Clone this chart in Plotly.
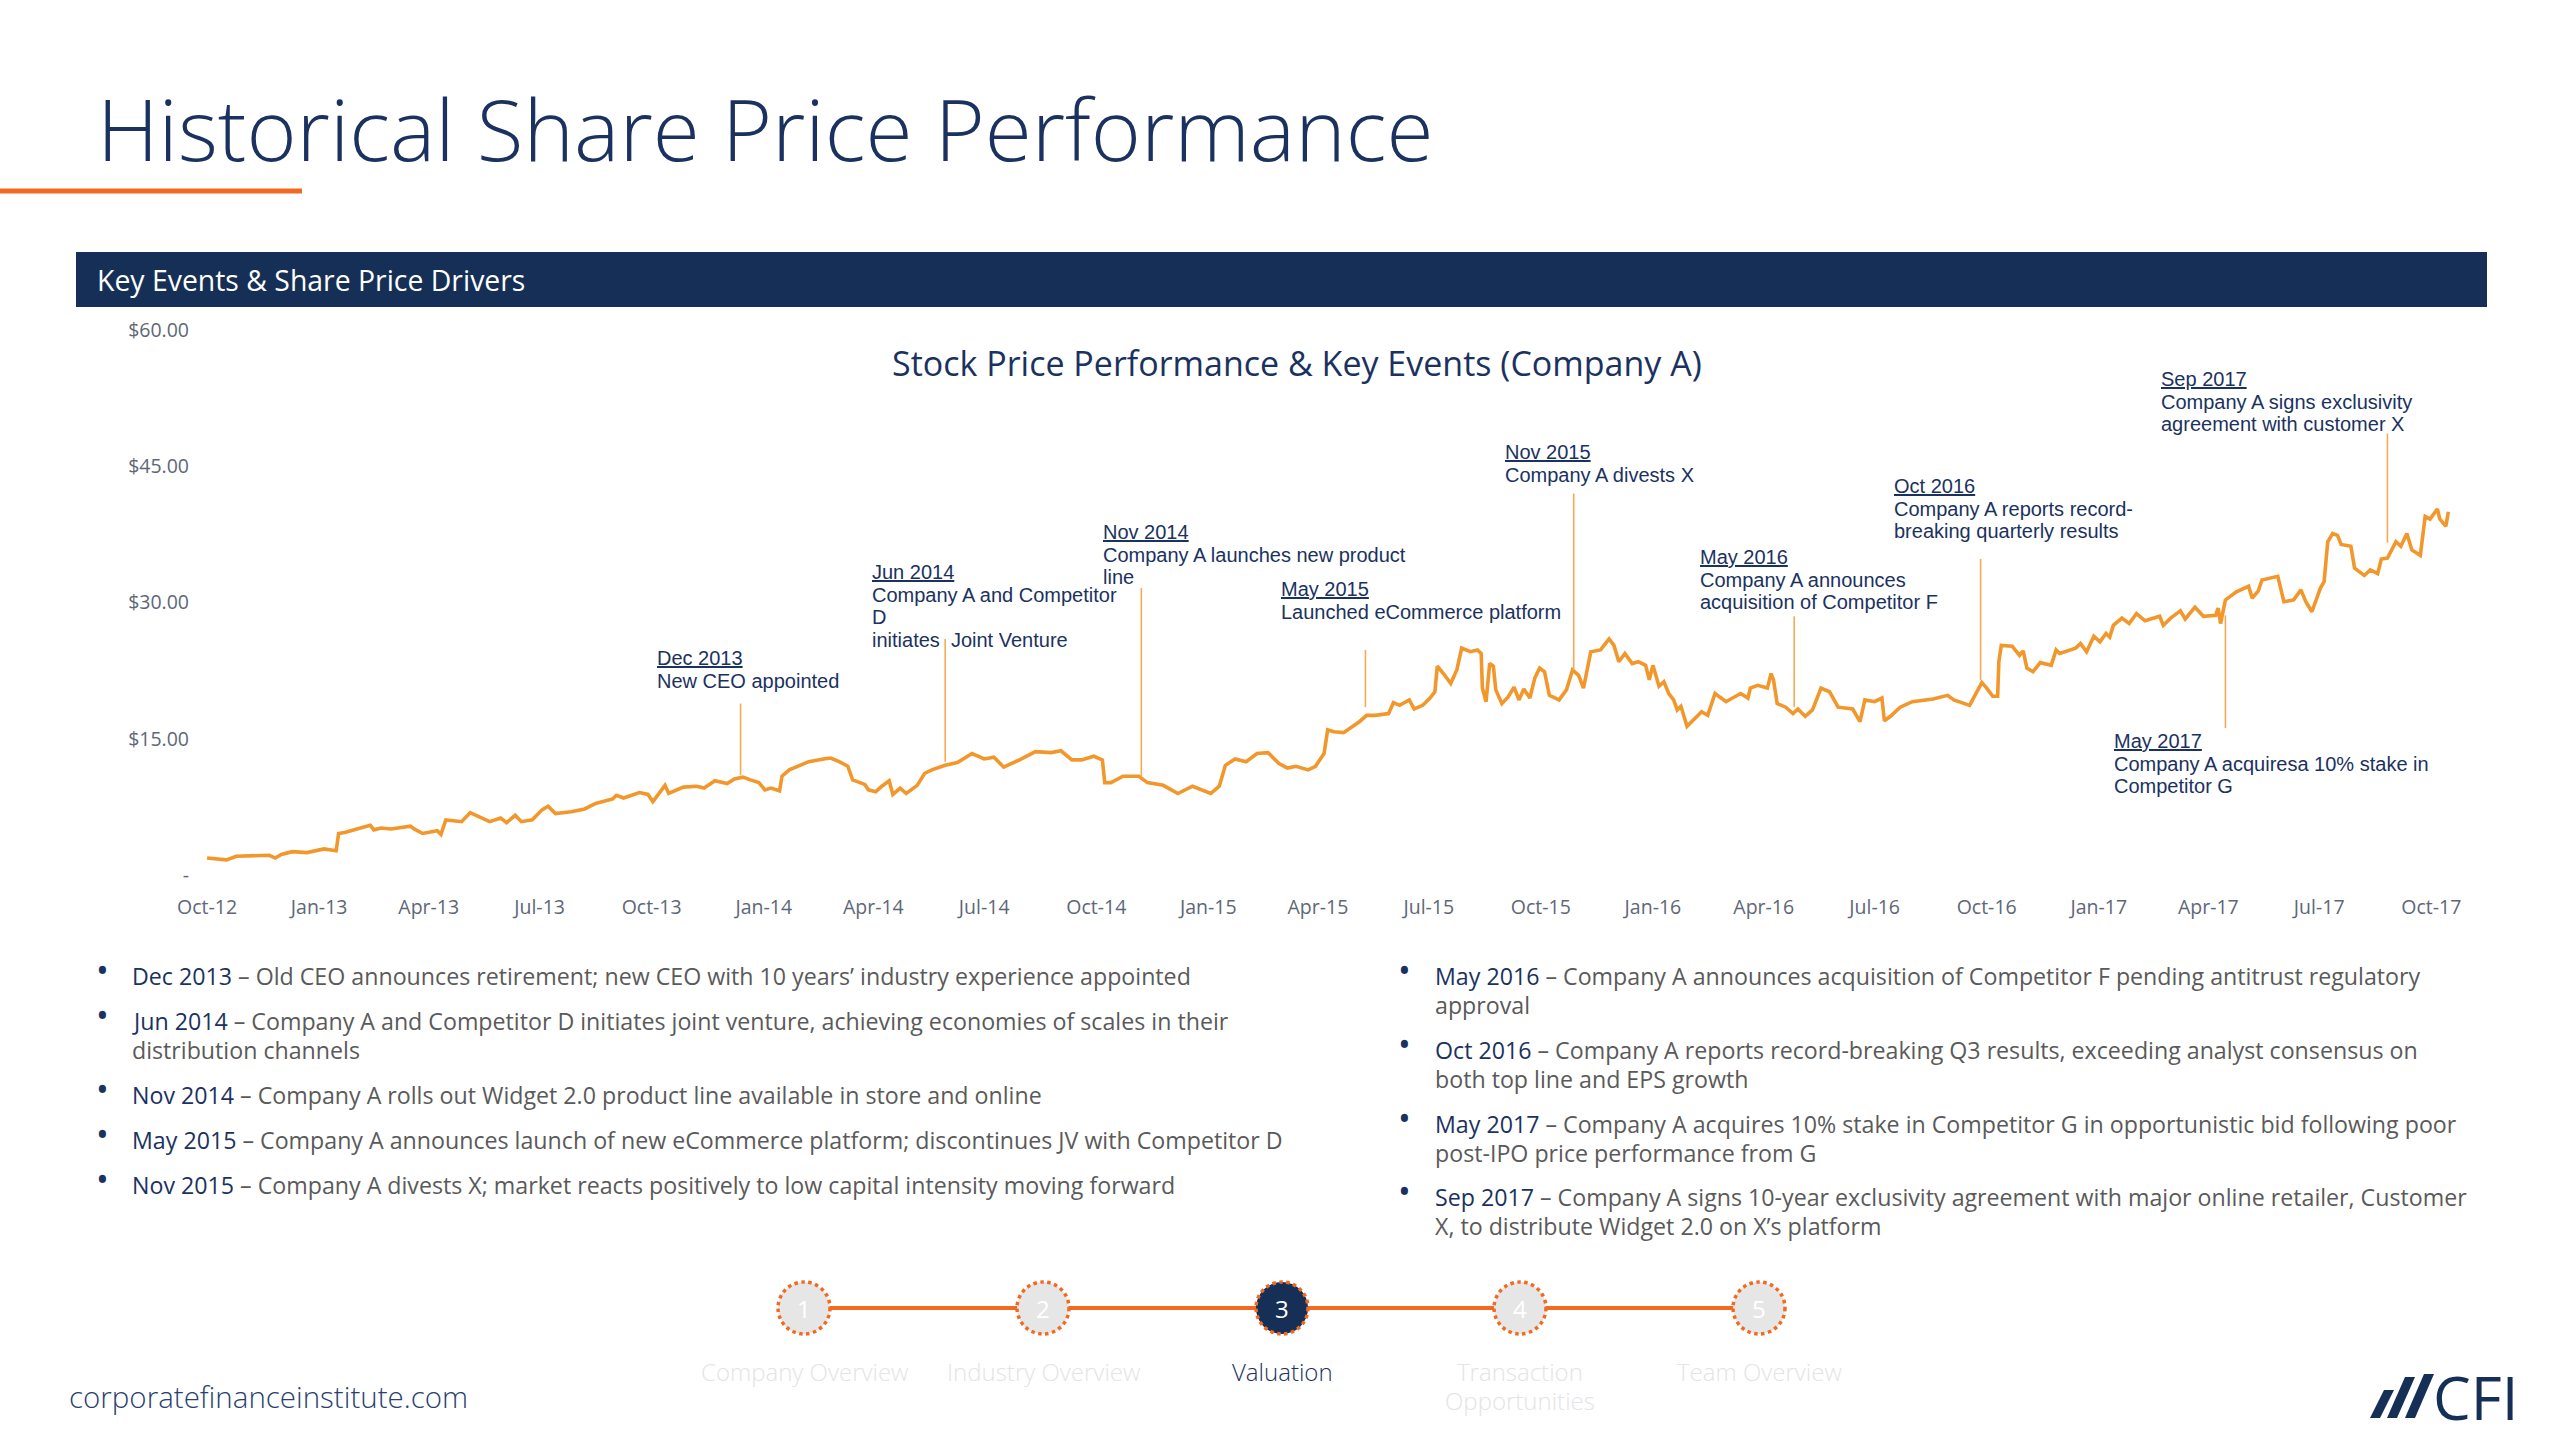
import plotly.graph_objects as go
import numpy as np
import pandas as pd

W, H = 2560, 1439

# ---------------- data ----------------
price_dates = [
    "2012-10-01","2012-10-17","2012-10-25","2012-11-21","2012-11-26","2012-12-01","2012-12-10","2012-12-22",
    "2013-01-05","2013-01-15","2013-01-17","2013-01-22","2013-02-01","2013-02-12","2013-02-15","2013-02-21",
    "2013-03-01","2013-03-17","2013-03-20","2013-03-27","2013-04-08","2013-04-11","2013-04-15","2013-04-28",
    "2013-05-05","2013-05-13","2013-05-21","2013-05-30","2013-06-04","2013-06-11","2013-06-16","2013-06-25",
    "2013-07-03","2013-07-08","2013-07-14","2013-07-27","2013-08-07","2013-08-16","2013-08-30","2013-09-02",
    "2013-09-08","2013-09-21","2013-09-28","2013-10-02","2013-10-12","2013-10-15","2013-10-27","2013-11-07",
    "2013-11-13","2013-11-22","2013-12-02","2013-12-08","2013-12-15","2013-12-21","2013-12-28","2014-01-02",
    "2014-01-07","2014-01-14","2014-01-16","2014-01-22","2014-02-01","2014-02-07","2014-02-19","2014-02-25",
    "2014-03-04","2014-03-11","2014-03-15","2014-03-25","2014-03-28","2014-04-03","2014-04-08","2014-04-14",
    "2014-04-17","2014-04-23","2014-04-28","2014-05-07","2014-05-13","2014-05-19","2014-05-30","2014-06-09",
    "2014-06-21","2014-07-01","2014-07-09","2014-07-17","2014-07-30","2014-08-12","2014-08-25","2014-09-02",
    "2014-09-11","2014-09-19","2014-09-29","2014-10-06","2014-10-08","2014-10-13","2014-10-23","2014-11-05",
    "2014-11-12","2014-11-25","2014-12-07","2014-12-19","2015-01-03","2015-01-10","2015-01-15","2015-01-23",
    "2015-02-01","2015-02-10","2015-02-19","2015-02-28","2015-03-07","2015-03-14","2015-03-24","2015-03-30",
    "2015-04-06","2015-04-09","2015-04-14","2015-04-22","2015-05-05","2015-05-11","2015-05-18","2015-05-29",
    "2015-06-02","2015-06-07","2015-06-15","2015-06-19","2015-06-26","2015-07-02","2015-07-06","2015-07-08",
    "2015-07-13","2015-07-19","2015-07-24","2015-07-28","2015-08-04","2015-08-10","2015-08-13","2015-08-14",
    "2015-08-17","2015-08-20","2015-08-23","2015-08-25","2015-08-30","2015-09-04","2015-09-09","2015-09-13",
    "2015-09-17","2015-09-22","2015-09-26","2015-09-30","2015-10-04","2015-10-08","2015-10-16","2015-10-22",
    "2015-10-27","2015-11-01","2015-11-05","2015-11-11","2015-11-19","2015-11-26","2015-11-30","2015-12-04",
    "2015-12-09","2015-12-15","2015-12-20","2015-12-26","2015-12-29","2016-01-01","2016-01-06","2016-01-10",
    "2016-01-14","2016-01-18","2016-01-21","2016-01-24","2016-01-29","2016-02-04","2016-02-10","2016-02-15",
    "2016-02-21","2016-03-01","2016-03-13","2016-03-19","2016-03-21","2016-03-27","2016-04-04","2016-04-07",
    "2016-04-09","2016-04-12","2016-04-19","2016-04-25","2016-04-29","2016-05-05","2016-05-11","2016-05-18",
    "2016-05-25","2016-06-01","2016-06-13","2016-06-19","2016-06-23","2016-07-01","2016-07-07","2016-07-09",
    "2016-07-14","2016-07-22","2016-08-01","2016-08-18","2016-08-30","2016-09-04","2016-09-17","2016-09-27",
    "2016-10-01","2016-10-06","2016-10-10","2016-10-11","2016-10-13","2016-10-22","2016-10-28","2016-10-31",
    "2016-11-03","2016-11-08","2016-11-14","2016-11-23","2016-11-27","2016-11-30","2016-12-13","2016-12-17",
    "2016-12-22","2016-12-28","2017-01-02","2017-01-07","2017-01-10","2017-01-13","2017-01-20","2017-01-26",
    "2017-02-01","2017-02-08","2017-02-16","2017-02-20","2017-02-23","2017-03-01","2017-03-09","2017-03-13",
    "2017-03-21","2017-03-28","2017-04-07","2017-04-09","2017-04-11","2017-04-15","2017-04-24","2017-05-04",
    "2017-05-07","2017-05-12","2017-05-15","2017-05-28","2017-06-02","2017-06-10","2017-06-16","2017-06-20",
    "2017-06-25","2017-07-02","2017-07-05","2017-07-08","2017-07-12","2017-07-16","2017-07-19","2017-07-27",
    "2017-07-30","2017-08-07","2017-08-12","2017-08-18","2017-08-21","2017-08-26","2017-09-02","2017-09-06",
    "2017-09-11","2017-09-15","2017-09-22","2017-09-26","2017-09-30","2017-10-06","2017-10-08","2017-10-13",
    "2017-10-15",
]
price_values = [
    1.9, 1.7, 2.1, 2.2, 1.9, 2.3, 2.6, 2.5,
    2.9, 2.7, 4.6, 4.7, 5.1, 5.5, 5.0, 5.2,
    5.1, 5.4, 5.1, 4.6, 4.9, 4.5, 6.1, 5.9,
    6.9, 6.4, 5.9, 6.3, 5.8, 6.6, 5.9, 6.1,
    7.2, 7.6, 6.8, 7.0, 7.3, 7.9, 8.4, 8.8,
    8.5, 9.1, 8.9, 8.1, 9.9, 9.0, 9.7, 9.8,
    9.6, 10.4, 10.1, 10.6, 10.8, 10.5, 10.2, 9.4,
    9.6, 9.3, 10.9, 11.6, 12.2, 12.5, 12.8, 12.9,
    12.5, 12.0, 10.5, 10.0, 9.4, 9.2, 9.8, 10.4,
    8.9, 9.6, 9.0, 9.9, 11.2, 11.6, 12.1, 12.4,
    13.4, 12.8, 13.0, 11.9, 12.7, 13.6, 13.5, 13.7,
    12.7, 12.7, 13.1, 12.7, 10.2, 10.2, 10.9, 10.9,
    10.2, 9.9, 9.0, 9.8, 9.0, 9.8, 12.1, 12.8,
    12.5, 13.4, 13.5, 12.3, 11.8, 12.0, 11.6, 12.0,
    13.4, 16.0, 15.8, 15.7, 16.9, 17.6, 17.6, 17.8,
    19.0, 18.7, 19.3, 18.3, 18.7, 19.5, 20.2, 23.0,
    22.2, 21.1, 22.6, 25.0, 24.6, 24.8, 24.4, 20.6,
    19.1, 23.3, 23.0, 20.4, 18.9, 19.6, 20.7, 19.3,
    20.5, 19.5, 21.7, 22.8, 22.4, 19.8, 19.3, 20.4,
    22.6, 22.0, 20.6, 24.6, 24.8, 26.0, 25.3, 23.5,
    24.4, 23.3, 23.5, 23.1, 21.5, 23.1, 20.8, 21.3,
    20.0, 19.3, 18.2, 18.6, 16.4, 17.2, 18.0, 17.6,
    20.0, 19.1, 20.0, 19.5, 20.6, 20.9, 20.6, 22.2,
    21.5, 18.9, 18.5, 17.8, 18.3, 17.5, 18.2, 20.6,
    20.2, 18.5, 18.3, 16.9, 19.3, 19.1, 19.5, 17.0,
    17.5, 18.5, 19.1, 19.4, 19.8, 19.3, 18.7, 21.2,
    20.6, 19.7, 19.7, 23.5, 25.3, 25.2, 24.2, 24.7,
    22.8, 22.4, 23.4, 23.1, 24.8, 24.4, 25.0, 25.5,
    24.6, 26.3, 25.7, 26.6, 26.2, 27.5, 28.3, 27.7,
    28.8, 28.0, 28.4, 28.5, 27.5, 28.3, 29.1, 28.2,
    29.5, 28.5, 28.6, 29.4, 27.7, 30.3, 31.2, 31.8,
    30.5, 31.3, 32.5, 32.9, 30.1, 30.3, 31.4, 30.1,
    29.0, 31.6, 32.3, 36.7, 37.6, 37.4, 36.4, 36.2,
    33.8, 33.0, 33.6, 33.2, 34.8, 34.9, 36.7, 36.2,
    37.6, 35.8, 35.2, 39.5, 39.2, 40.3, 39.2, 38.4,
    40.0,
]

x_tick_dates = ["2012-10-01","2013-01-01","2013-04-01","2013-07-01","2013-10-01","2014-01-01","2014-04-01",
                "2014-07-01","2014-10-01","2015-01-01","2015-04-01","2015-07-01","2015-10-01","2016-01-01",
                "2016-04-01","2016-07-01","2016-10-01","2017-01-01","2017-04-01","2017-07-01","2017-10-01"]
x_tick_labels = ["Oct-12","Jan-13","Apr-13","Jul-13","Oct-13","Jan-14","Apr-14","Jul-14","Oct-14","Jan-15",
                 "Apr-15","Jul-15","Oct-15","Jan-16","Apr-16","Jul-16","Oct-16","Jan-17","Apr-17","Jul-17","Oct-17"]
y_tick_values = [0, 15, 30, 45, 60]
y_tick_labels = ["-", "$15.00", "$30.00", "$45.00", "$60.00"]

event_dates = ["2013-12-13","2014-05-30","2014-11-07","2015-05-10","2015-10-28",
               "2016-04-26","2016-09-26","2017-04-15","2017-08-26"]
event_titles = ["Dec 2013","Jun 2014","Nov 2014","May 2015","Nov 2015","May 2016","Oct 2016","May 2017","Sep 2017"]
event_texts = [
    ["New CEO appointed"],
    ["Company A and Competitor", "D", "initiates  Joint Venture"],
    ["Company A launches new product", "line"],
    ["Launched eCommerce platform"],
    ["Company A divests X"],
    ["Company A announces", "acquisition of Competitor F"],
    ["Company A reports record-", "breaking quarterly results"],
    ["Company A acquiresa 10% stake in", "Competitor G"],
    ["Company A signs exclusivity", "agreement with customer X"],
]

bullet_left_dates = ["Dec 2013","Jun 2014","Nov 2014","May 2015","Nov 2015"]
bullet_left_texts = [
    ["Old CEO announces retirement; new CEO with 10 years\u2019 industry experience appointed"],
    ["Company A and Competitor D initiates joint venture, achieving economies of scales in their", "distribution channels"],
    ["Company A rolls out Widget 2.0 product line available in store and online"],
    ["Company A announces launch of new eCommerce platform; discontinues JV with Competitor D"],
    ["Company A divests X; market reacts positively to low capital intensity moving forward"],
]
bullet_right_dates = ["May 2016","Oct 2016","May 2017","Sep 2017"]
bullet_right_texts = [
    ["Company A announces acquisition of Competitor F pending antitrust regulatory", "approval"],
    ["Company A reports record-breaking Q3 results, exceeding analyst consensus on", "both top line and EPS growth"],
    ["Company A acquires 10% stake in Competitor G in opportunistic bid following poor", "post-IPO price performance from G"],
    ["Company A signs 10-year exclusivity agreement with major online retailer, Customer", "X, to distribute Widget 2.0 on X\u2019s platform"],
]

nav_numbers = ["1", "2", "3", "4", "5"]
nav_labels = [["Company Overview"], ["Industry Overview"], ["Valuation"], ["Transaction", "Opportunities"], ["Team Overview"]]
active_step = 2

# ---------------- styles / layout positions ----------------
NAVY = "#1B3260"
BAR_NAVY = "#162F56"
ORANGE = "#F26A21"
LINE_ORANGE = "#F2972C"
LEADER_ORANGE = "#F5AB55"
GRAY_AXIS = "#5E6777"
BODY_GRAY = "#5A5A5A"

def fx(x):
    return x / W

def fy(y):
    return 1 - y / H

annotations = []
shapes = []

def text(x, y, s, size, color, family="Open Sans", xanchor="left", yanchor="middle", weight=None):
    f = dict(family=family, size=size, color=color)
    if weight is not None:
        f["weight"] = weight
    annotations.append(dict(x=fx(x), y=fy(y), xref="paper", yref="paper", text=s, showarrow=False,
                            xanchor=xanchor, yanchor=yanchor, font=f, borderpad=0))

# title + underline
text(96, 128, "Historical Share Price Performance", 85.6, NAVY, weight=300)
shapes.append(dict(type="rect", xref="paper", yref="paper", x0=fx(0), x1=fx(302), y0=fy(193.5), y1=fy(188.5),
                   fillcolor=ORANGE, line=dict(width=0)))

# section bar
shapes.append(dict(type="rect", xref="paper", yref="paper", x0=fx(76), x1=fx(2487), y0=fy(307), y1=fy(252),
                   fillcolor=BAR_NAVY, line=dict(width=0)))
text(96, 280, "Key Events & Share Price Drivers", 28.4, "white")

# chart title
text(1297, 363, "Stock Price Performance & Key Events (Company A)", 34, NAVY, xanchor="center")

# event annotations
event_text_pos = [(656, 658), (871, 572), (1102, 532), (1280, 589), (1504, 452),
                  (1699, 557), (1893, 486), (2113, 741), (2160, 379)]
leader_spans = [(18.9, 11.0), (26.0, 12.5), (31.6, 10.9), (24.8, 18.5), (42.0, 22.6),
                (28.5, 18.5), (34.8, 21.5), (28.6, 16.2), (48.6, 36.6)]
LH = 22.7
for (tx, ty), title, lines in zip(event_text_pos, event_titles, event_texts):
    text(tx, ty, "<u>" + title + "</u>", 20, NAVY, family="Liberation Sans, Arial")
    for i, ln in enumerate(lines):
        text(tx, ty + (i + 1) * LH, ln, 20, NAVY, family="Liberation Sans, Arial")
for d, (top, bot) in zip(event_dates, leader_spans):
    shapes.append(dict(type="line", xref="x", yref="y", x0=d, x1=d, y0=bot, y1=top,
                       line=dict(color=LEADER_ORANGE, width=1.6), layer="above"))

# bullets
BLH = 29.0
def bullets(x_dot, x_text, ys, dates, texts):
    for y, d, lines in zip(ys, dates, texts):
        text(x_dot, y - 6, "\u2022", 34, NAVY, xanchor="center")
        first = "<span style='color:%s'>%s</span> \u2013 %s" % (NAVY, d, lines[0])
        text(x_text, y, first, 23.2, BODY_GRAY)
        for i, ln in enumerate(lines[1:]):
            text(x_text, y + (i + 1) * BLH, ln, 23.2, BODY_GRAY)

bullets(102, 131, [976, 1021, 1095, 1140, 1185], bullet_left_dates, bullet_left_texts)
bullets(1404, 1434, [976, 1050, 1124, 1197], bullet_right_dates, bullet_right_texts)

# navigation steps
nav_x = [804, 1043, 1282, 1520, 1759]
nav_y = 1308
R = 26
shapes.append(dict(type="line", xref="paper", yref="paper", x0=fx(nav_x[0]), x1=fx(nav_x[-1]),
                   y0=fy(nav_y), y1=fy(nav_y), line=dict(color=ORANGE, width=4)))
for i, (cx, num, lab) in enumerate(zip(nav_x, nav_numbers, nav_labels)):
    active = (i == active_step)
    shapes.append(dict(type="circle", xref="paper", yref="paper", x0=fx(cx - R), x1=fx(cx + R),
                       y0=fy(nav_y + R), y1=fy(nav_y - R),
                       fillcolor=BAR_NAVY if active else "#E7E6E6",
                       line=dict(color=ORANGE, width=3.5, dash="dot")))
    text(cx, nav_y, num, 24, "white", xanchor="center")
    for j, ln in enumerate(lab):
        text(cx, 1371 + j * 29, ln, 24, NAVY if active else "#E4E4E4", xanchor="center", weight=300)

# footer
text(68, 1396, "corporatefinanceinstitute.com", 29.5, "#2A3F6E", weight=300)

# CFI logo
bars = [(2370, 1418, 2384, 1390), (2387, 1418, 2405, 1377), (2405, 1418, 2424, 1374)]
BW = 10
for (bx, by, tx_, ty_) in bars:
    path = "M %f %f L %f %f L %f %f L %f %f Z" % (
        fx(bx), fy(by), fx(bx + BW), fy(by), fx(tx_ + BW), fy(ty_), fx(tx_), fy(ty_))
    shapes.append(dict(type="path", xref="paper", yref="paper", path=path, fillcolor=BAR_NAVY,
                       line=dict(width=0)))
text(2432, 1397, "CFI", 60, BAR_NAVY)

# ---------------- figure ----------------
fig = go.Figure()
fig.add_trace(go.Scatter(x=pd.to_datetime(price_dates), y=price_values, mode="lines",
                         line=dict(color=LINE_ORANGE, width=3.6), hoverinfo="skip", showlegend=False))

fig.update_layout(
    width=W, height=H,
    margin=dict(l=0, r=0, t=0, b=0, pad=0),
    paper_bgcolor="white", plot_bgcolor="white",
    showlegend=False,
    xaxis=dict(domain=[fx(190), fx(2480)], range=["2012-09-17", "2017-11-10"], type="date",
               tickmode="array", tickvals=x_tick_dates, ticktext=x_tick_labels,
               showgrid=False, zeroline=False, showline=False,
               ticks="outside", ticklen=14, tickcolor="rgba(0,0,0,0)",
               tickfont=dict(family="Open Sans", size=19.5, color=GRAY_AXIS), automargin=False),
    yaxis=dict(domain=[fy(875.3), fy(330)], range=[0, 60],
               tickmode="array", tickvals=y_tick_values, ticktext=y_tick_labels,
               showgrid=False, zeroline=False, showline=False, ticks="",
               tickfont=dict(family="Open Sans", size=19.5, color=GRAY_AXIS), automargin=False),
    annotations=annotations,
    shapes=shapes,
)

fig.write_html("out.html", config={"displayModeBar": False},
               post_script="document.body.style.margin='0px';document.body.style.overflow='hidden';")
